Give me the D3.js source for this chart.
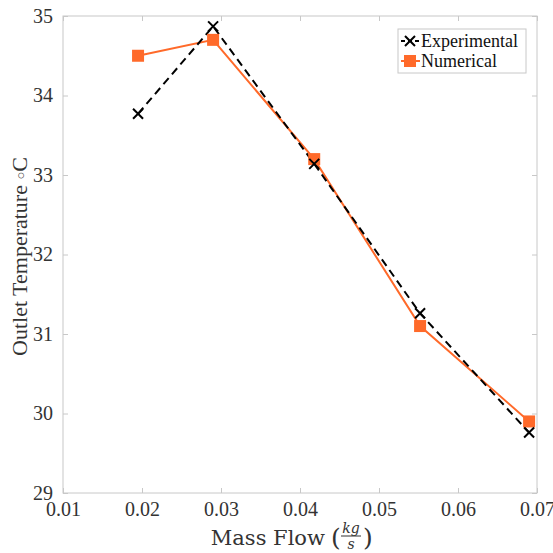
<!DOCTYPE html>
<html>
<head>
<meta charset="utf-8">
<script src="https://cdn.jsdelivr.net/npm/d3@7"></script>
<style>
  body { margin: 0; background: #fff; }
  text { font-family: "DejaVu Serif", serif; }
</style>
</head>
<body>
<div id="chart"></div>
<script>
// data
const massFlow = [0.0195, 0.029, 0.0418, 0.0552, 0.069];
const experimental = [33.77, 34.87, 33.14, 31.26, 29.76];
const numerical = [34.5, 34.7, 33.2, 31.1, 29.9];
const xTicks = [0.01, 0.02, 0.03, 0.04, 0.05, 0.06, 0.07];
const yTicks = [29, 30, 31, 32, 33, 34, 35];

const W = 553, H = 553;
const margin = { top: 16, right: 16, bottom: 60, left: 63 };
const width = W - margin.left - margin.right;
const height = H - margin.top - margin.bottom;
const orange = "#ff6a2a";
const boxColor = "#c8c8c8";
const fontFamily = "'Liberation Serif', 'DejaVu Serif', serif";

const svg = d3.select("#chart").append("svg")
    .attr("width", W)
    .attr("height", H);

const g = svg.append("g")
    .attr("transform", `translate(${margin.left},${margin.top})`);

const x = d3.scaleLinear().domain([0.01, 0.07]).range([0, width]);
const y = d3.scaleLinear().domain([29, 35]).range([height, 0]);

// box and inner ticks
g.append("rect")
    .attr("width", width).attr("height", height)
    .attr("fill", "none").attr("stroke", boxColor).attr("stroke-width", 1);

const styleAxis = sel => {
    sel.select(".domain").remove();
    sel.selectAll(".tick line").attr("stroke", boxColor);
    sel.selectAll(".tick text")
        .attr("fill", "#333")
        .style("font-family", fontFamily)
        .style("font-size", "20px");
};

g.append("g")
    .attr("transform", `translate(0,${height})`)
    .call(d3.axisBottom(x).tickValues(xTicks).tickFormat(d3.format(".2f")).tickSizeInner(-5).tickPadding(8))
    .call(styleAxis)
    .selectAll(".tick text").attr("dy", "0.75em");

g.append("g")
    .call(d3.axisTop(x).tickValues(xTicks).tickFormat("").tickSizeInner(-5))
    .call(styleAxis);

g.append("g")
    .call(d3.axisLeft(y).tickValues(yTicks).tickFormat(d3.format("d")).tickSizeInner(-5).tickPadding(10))
    .call(styleAxis);

g.append("g")
    .attr("transform", `translate(${width},0)`)
    .call(d3.axisRight(y).tickValues(yTicks).tickFormat("").tickSizeInner(-5))
    .call(styleAxis);

// lines
const expData = massFlow.map((m, i) => ({ x: m, y: experimental[i] }));
const numData = massFlow.map((m, i) => ({ x: m, y: numerical[i] }));

const line = d3.line().x(d => x(d.x)).y(d => y(d.y));

g.append("path")
    .datum(numData)
    .attr("fill", "none")
    .attr("stroke", orange)
    .attr("stroke-width", 2)
    .attr("d", line);

g.append("path")
    .datum(expData)
    .attr("fill", "none")
    .attr("stroke", "#000")
    .attr("stroke-width", 2)
    .attr("stroke-dasharray", "8,5")
    .attr("d", line);

// markers
g.selectAll(".num")
    .data(numData)
    .enter().append("rect")
    .attr("x", d => x(d.x) - 6)
    .attr("y", d => y(d.y) - 6)
    .attr("width", 12).attr("height", 12)
    .attr("fill", orange);

g.selectAll(".exp")
    .data(expData)
    .enter().append("path")
    .attr("transform", d => `translate(${x(d.x)},${y(d.y)})`)
    .attr("d", "M-5,-5L5,5M-5,5L5,-5")
    .attr("fill", "none")
    .attr("stroke", "#000")
    .attr("stroke-width", 2);

// legend
const legend = svg.append("g").attr("transform", "translate(398,29)");
legend.append("rect")
    .attr("width", 128).attr("height", 44)
    .attr("fill", "#fff").attr("stroke", boxColor);

const legendItems = [
    { name: "Experimental", color: "#000", dash: "4,3", marker: "x" },
    { name: "Numerical", color: orange, dash: null, marker: "sq" }
];
legendItems.forEach((item, i) => {
    const ly = 12 + i * 20;
    legend.append("line")
        .attr("x1", 3).attr("x2", 22).attr("y1", ly).attr("y2", ly)
        .attr("stroke", item.color).attr("stroke-width", 2)
        .attr("stroke-dasharray", item.dash);
    if (item.marker === "x") {
        legend.append("path")
            .attr("transform", `translate(12,${ly})`)
            .attr("d", "M-5,-5L5,5M-5,5L5,-5")
            .attr("stroke", "#000").attr("stroke-width", 2);
    } else {
        legend.append("rect")
            .attr("x", 6).attr("y", ly - 6).attr("width", 12).attr("height", 12)
            .attr("fill", orange);
    }
    legend.append("text")
        .attr("x", 23).attr("y", ly + 5.5)
        .style("font-family", fontFamily)
        .style("font-size", "18px")
        .attr("fill", "#111")
        .text(item.name);
});

// y label
const yl = svg.append("text")
    .attr("transform", `translate(27,${margin.top + height / 2 + 2}) rotate(-90)`)
    .attr("text-anchor", "middle")
    .style("font-family", fontFamily)
    .style("font-size", "22px")
    .attr("fill", "#333");
yl.append("tspan").text("Outlet Temperature ");
yl.append("tspan").style("font-size", "13px").attr("dy", "-2").text("\u25CB");
yl.append("tspan").attr("dy", "2").text("C");

// x label with fraction
const xl = svg.append("g").attr("fill", "#333").style("font-family", fontFamily);
xl.append("text")
    .attr("x", 325).attr("y", 545)
    .attr("text-anchor", "end")
    .style("font-size", "21px")
    .text("Mass Flow");
xl.append("text")
    .attr("x", 331).attr("y", 546)
    .style("font-size", "25px")
    .text("(");
xl.append("text")
    .attr("x", 351).attr("y", 533)
    .attr("text-anchor", "middle")
    .style("font-size", "14px").style("font-style", "italic")
    .text("kg");
xl.append("line")
    .attr("x1", 341).attr("x2", 361).attr("y1", 536).attr("y2", 536)
    .attr("stroke", "#333").attr("stroke-width", 1);
xl.append("text")
    .attr("x", 351).attr("y", 549)
    .attr("text-anchor", "middle")
    .style("font-size", "14px").style("font-style", "italic")
    .text("s");
xl.append("text")
    .attr("x", 363).attr("y", 546)
    .style("font-size", "25px")
    .text(")");
</script>
</body>
</html>
